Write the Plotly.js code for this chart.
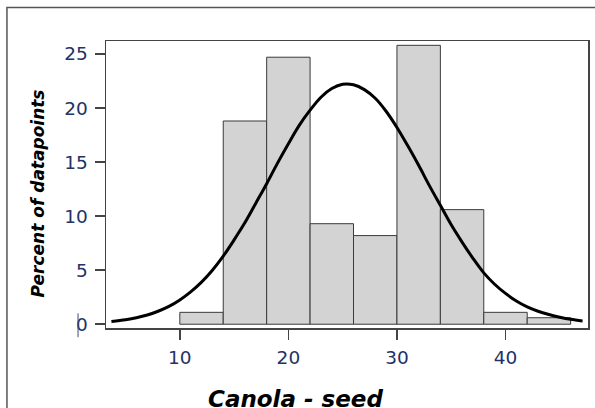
<!DOCTYPE html>
<html>
<head>
<meta charset="utf-8">
<script src="https://cdn.plot.ly/plotly-3.0.1.min.js"></script>
<style>
  html, body { margin: 0; padding: 0; background: #fff; }
  #chart { width: 595px; height: 408px; }
</style>
</head>
<body>
<div id="chart"></div>
<script>
// Histogram bins (width 4) and their share of datapoints, in percent
const binLeft = [10, 14, 18, 22, 26, 30, 34, 38, 42];
const binWidth = 4;
const binPercent = [1.1, 18.8, 24.7, 9.3, 8.2, 25.8, 10.6, 1.1, 0.6];

// Fitted distribution curve, read along its path
const curveX = [3.7, 5, 6, 7, 8, 9, 10, 11, 12, 13, 14, 15, 16, 17, 18, 19, 20, 21, 22,
                23, 24, 25, 26, 27, 28, 29, 30, 31, 32, 33, 34, 35, 36, 37, 38, 39, 40,
                41, 42, 43, 44, 45, 46, 47.1];
const curveY = [0.25, 0.42, 0.6, 0.85, 1.2, 1.65, 2.25, 3.0, 3.9, 5.0, 6.3, 7.8, 9.4, 11.2,
                13.0, 14.9, 16.7, 18.4, 19.8, 21.0, 21.8, 22.2, 22.15, 21.7, 20.9, 19.7,
                18.2, 16.5, 14.7, 12.8, 11.0, 9.2, 7.6, 6.1, 4.75, 3.7, 2.85, 2.15, 1.6,
                1.2, 0.9, 0.65, 0.45, 0.3];

const xTicks = [10, 20, 30, 40];
const yTicks = [0, 5, 10, 15, 20, 25];
const xTitle = 'Canola - seed';
const yTitle = 'Percent of datapoints';

const binCenter = binLeft.map(v => v + binWidth / 2);

const tickFont = { family: 'DejaVu Sans, sans-serif', size: 18.5, color: '#243264' };
const titleFont = { family: 'DejaVu Sans, sans-serif', color: '#000' };

const traces = [
  {
    type: 'bar',
    x: binCenter,
    y: binPercent,
    width: binLeft.map(() => binWidth),
    marker: { color: '#d3d3d3', line: { color: '#3a3a3a', width: 1 } },
    hoverinfo: 'x+y'
  },
  {
    type: 'scatter',
    mode: 'lines',
    x: curveX,
    y: curveY,
    line: { color: '#000', width: 3, shape: 'spline', smoothing: 1 },
    hoverinfo: 'skip'
  }
];

const axisLine = { showline: true, mirror: true, linecolor: '#444', linewidth: 1.5 };

const layout = {
  width: 595,
  height: 408,
  margin: { l: 106, r: 7, t: 41, b: 80 },
  paper_bgcolor: '#fff',
  plot_bgcolor: '#fff',
  showlegend: false,
  bargap: 0,
  xaxis: Object.assign({
    range: [3.2, 47.6],
    tickvals: xTicks,
    ticktext: xTicks.map(String),
    ticks: 'outside',
    ticklen: 10,
    tickwidth: 1.5,
    tickcolor: '#444',
    showgrid: false,
    zeroline: false,
    tickfont: tickFont,
    ticklabelstandoff: 2
  }, axisLine),
  yaxis: Object.assign({
    range: [-0.35, 26.2],
    tickvals: yTicks,
    ticktext: yTicks.map(String),
    ticks: 'outside',
    ticklen: 10,
    tickwidth: 1.5,
    tickcolor: '#444',
    showgrid: false,
    zeroline: false,
    tickfont: tickFont,
    ticklabelstandoff: 3
  }, axisLine),
  annotations: [
    {
      text: '<b><i>' + yTitle + '</i></b>',
      xref: 'paper', yref: 'paper',
      x: -0.141, y: 0.469,
      xanchor: 'center', yanchor: 'middle',
      textangle: -90,
      showarrow: false,
      font: Object.assign({ size: 17 }, titleFont)
    },
    {
      text: '<b><i>' + xTitle + '</i></b>',
      xref: 'paper', yref: 'paper',
      x: (295 - 106) / 482, y: -0.196,
      xanchor: 'center', yanchor: 'top',
      showarrow: false,
      font: Object.assign({ size: 23 }, titleFont)
    }
  ],
  shapes: [
    // outer frame around the figure
    {
      type: 'rect', xref: 'paper', yref: 'paper', layer: 'below',
      x0: -0.2055, x1: 1.03, y0: -0.35, y1: 1.117,
      line: { color: '#555', width: 1.5 }
    },
    // small stroke beside the zero label
    {
      type: 'line', xref: 'paper', yref: 'paper',
      x0: -0.058, x1: -0.058, y0: 0.051, y1: -0.032,
      line: { color: '#3a4a80', width: 1 }
    }
  ]
};

Plotly.newPlot('chart', traces, layout, { staticPlot: true, displayModeBar: false });
</script>
</body>
</html>
